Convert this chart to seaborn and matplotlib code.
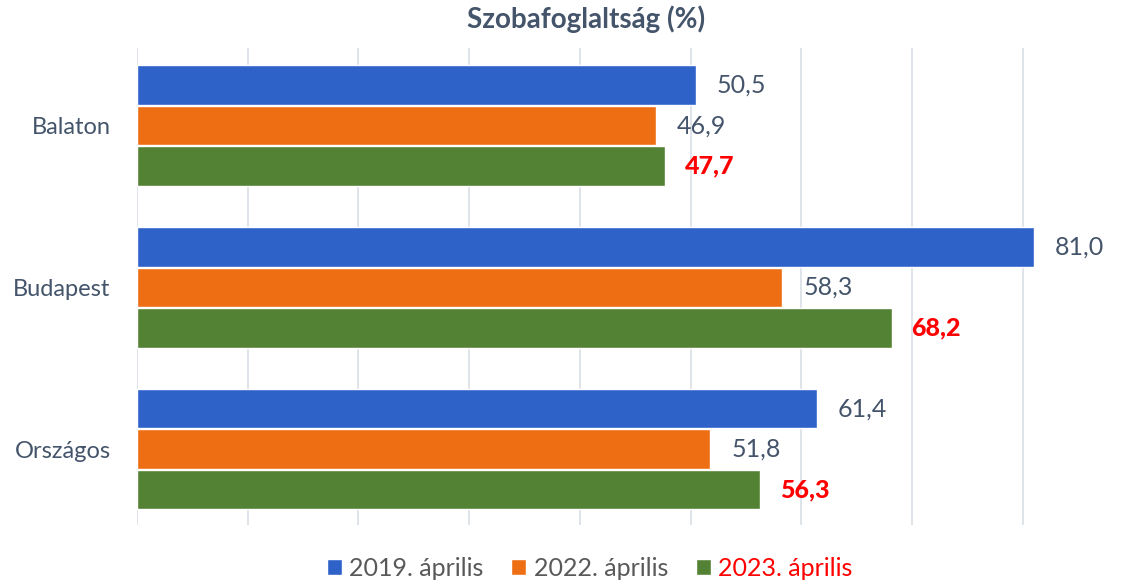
import pandas as pd
import matplotlib.pyplot as plt
import seaborn as sns

# ── Adatok ────────────────────────────────────────────────
helyek = ["Balaton", "Budapest", "Országos"]
evek = ["2019. április", "2022. április", "2023. április"]
ertek_2019 = [50.5, 81.0, 61.4]
ertek_2022 = [46.9, 58.3, 51.8]
ertek_2023 = [47.7, 68.2, 56.3]

BLUE = "#2E62C9"
ORANGE = "#EE6E14"
GREEN = "#548235"
TEXT = "#44546A"
RED = "#FF0000"
GRID = "#D9DEE6"

df = pd.DataFrame({
    "hely": helyek * 3,
    "ev": [evek[0]] * 3 + [evek[1]] * 3 + [evek[2]] * 3,
    "ertek": ertek_2019 + ertek_2022 + ertek_2023,
})

sns.set_style("white")
plt.rcParams["font.family"] = ["Lato", "DejaVu Sans"]

fig = plt.figure(figsize=(11.23, 5.85), dpi=100)
ax = fig.add_axes([137 / 1123, 1 - 525 / 585, 1 - 137 / 1123, (525 - 48) / 585])

sns.barplot(data=df, y="hely", x="ertek", hue="ev", orient="h",
            palette=[BLUE, ORANGE, GREEN], saturation=1, width=0.75,
            gap=0.02, ax=ax, legend=True)

ax.set_xlim(0, (1123 - 137) / 11.07)
ax.set_ylim(2.47, -0.48)
ax.set_xticks(range(0, 90, 10))
ax.set_xticklabels([])
ax.tick_params(axis="x", length=0)
ax.tick_params(axis="y", length=0, pad=19, labelsize=17, labelcolor=TEXT)
ax.grid(axis="x", color=GRID, linewidth=1.2)
ax.set_axisbelow(True)
for s in ax.spines.values():
    s.set_visible(False)
ax.set_xlabel("")
ax.set_ylabel("")

# értékcímkék
for i, cont in enumerate(ax.containers):
    labels = [f"{b.get_width():.1f}".replace(".", ",") for b in cont]
    if i == 2:
        ax.bar_label(cont, labels=labels, padding=14, fontsize=18,
                     color=RED, fontweight="black")
    else:
        ax.bar_label(cont, labels=labels, padding=15, fontsize=18, color=TEXT)

fig.suptitle("Szobafoglaltság (%)", fontsize=20, fontweight="bold",
             color=TEXT, x=0.522, y=0.99)

handles, labs = ax.get_legend_handles_labels()
ax.get_legend().remove()
leg = fig.legend(handles, labs, loc="lower center", bbox_to_anchor=(0.525, -0.03),
                 ncol=3, frameon=False, fontsize=18, handlelength=0.6,
                 handleheight=0.6, handletextpad=0.3, columnspacing=1.1)
for t in leg.get_texts():
    t.set_color("#595959")
leg.get_texts()[2].set_color(RED)

fig.savefig("out.png", dpi=100)
